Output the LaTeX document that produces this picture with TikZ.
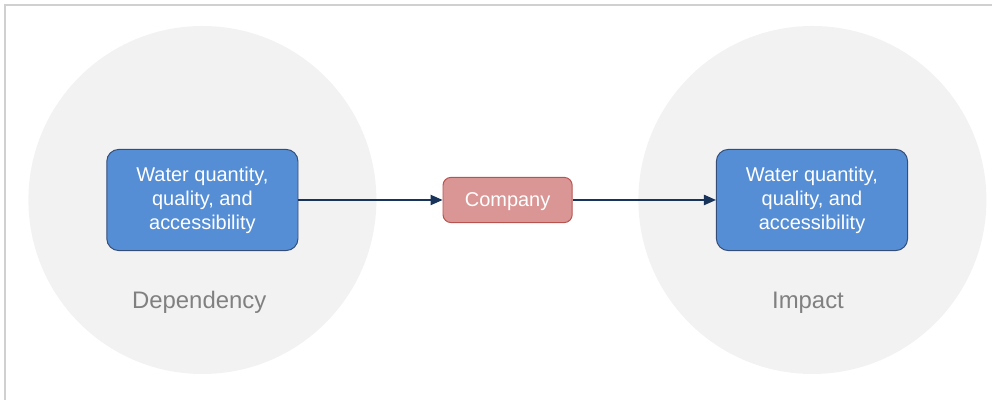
\documentclass[tikz,border=0pt]{standalone}
\usepackage{fontspec}
\setmainfont{Liberation Sans}
\usepackage{tikz}
\usetikzlibrary{positioning, arrows.meta}
\definecolor{WaterBlue}{RGB}{85,142,213}
\definecolor{WaterEdge}{RGB}{52,78,120}
\definecolor{CoRed}{RGB}{218,150,148}
\definecolor{CoEdge}{RGB}{184,84,80}
\definecolor{ArrNavy}{RGB}{24,52,90}
\definecolor{RingGray}{RGB}{242,242,242}
\definecolor{LblGray}{RGB}{128,128,128}
\definecolor{FrameGray}{RGB}{208,208,208}

\begin{document}
\begin{tikzpicture}[
            wbox/.style={rectangle, rounded corners=0.3cm, minimum width=4.78cm,
                         minimum height=2.53cm, align=center, text=white,
                         fill=WaterBlue, draw=WaterEdge, line width=0.7pt,
                         font=\fontsize{14.2}{17.1}\selectfont},
            cbox/.style={rectangle, rounded corners=0.2cm, minimum width=3.23cm,
                         minimum height=1.13cm, align=center, text=white,
                         fill=CoRed, draw=CoEdge, line width=0.7pt, text depth=0pt,
                         font=\fontsize{14.2}{17.1}\selectfont},
            ring/.style={circle, fill=RingGray, minimum size=8.7cm, inner sep=0pt},
            lbl/.style={text=LblGray, font=\fontsize{17}{20}\selectfont},
            arr/.style={-{Triangle[length=0.3cm, width=0.26cm]}, draw=ArrNavy,
                        line width=0.8pt}
          ]
          \useasboundingbox (0,0) rectangle (24.8,10);
          % frame edges
          \draw[FrameGray, line width=0.8pt] (0.125,0) -- (0.125,9.875) -- (24.8,9.875);

          % background circles
          \node[ring] (cdep) at (5.06, 5.0) {};
          \node[ring] (cimp) at (20.31, 5.0) {};

          % boxes
          \node[wbox] (wdep) at (5.06, 5.0) {Water quantity,\\quality, and\\accessibility};
          \node[cbox] (co)   at (12.69, 5.0) {Company};
          \node[wbox] (wimp) at (20.3, 5.0) {Water quantity,\\quality, and\\accessibility};
          \draw[arr] (wdep)--(co); \draw[arr] (co)--(wimp);

          % circle captions
          \node[lbl] (ldep) at (4.98, 2.43) {Dependency};
          \node[lbl] (limp) at (20.2, 2.43) {Impact};
        \end{tikzpicture}
\end{document}
